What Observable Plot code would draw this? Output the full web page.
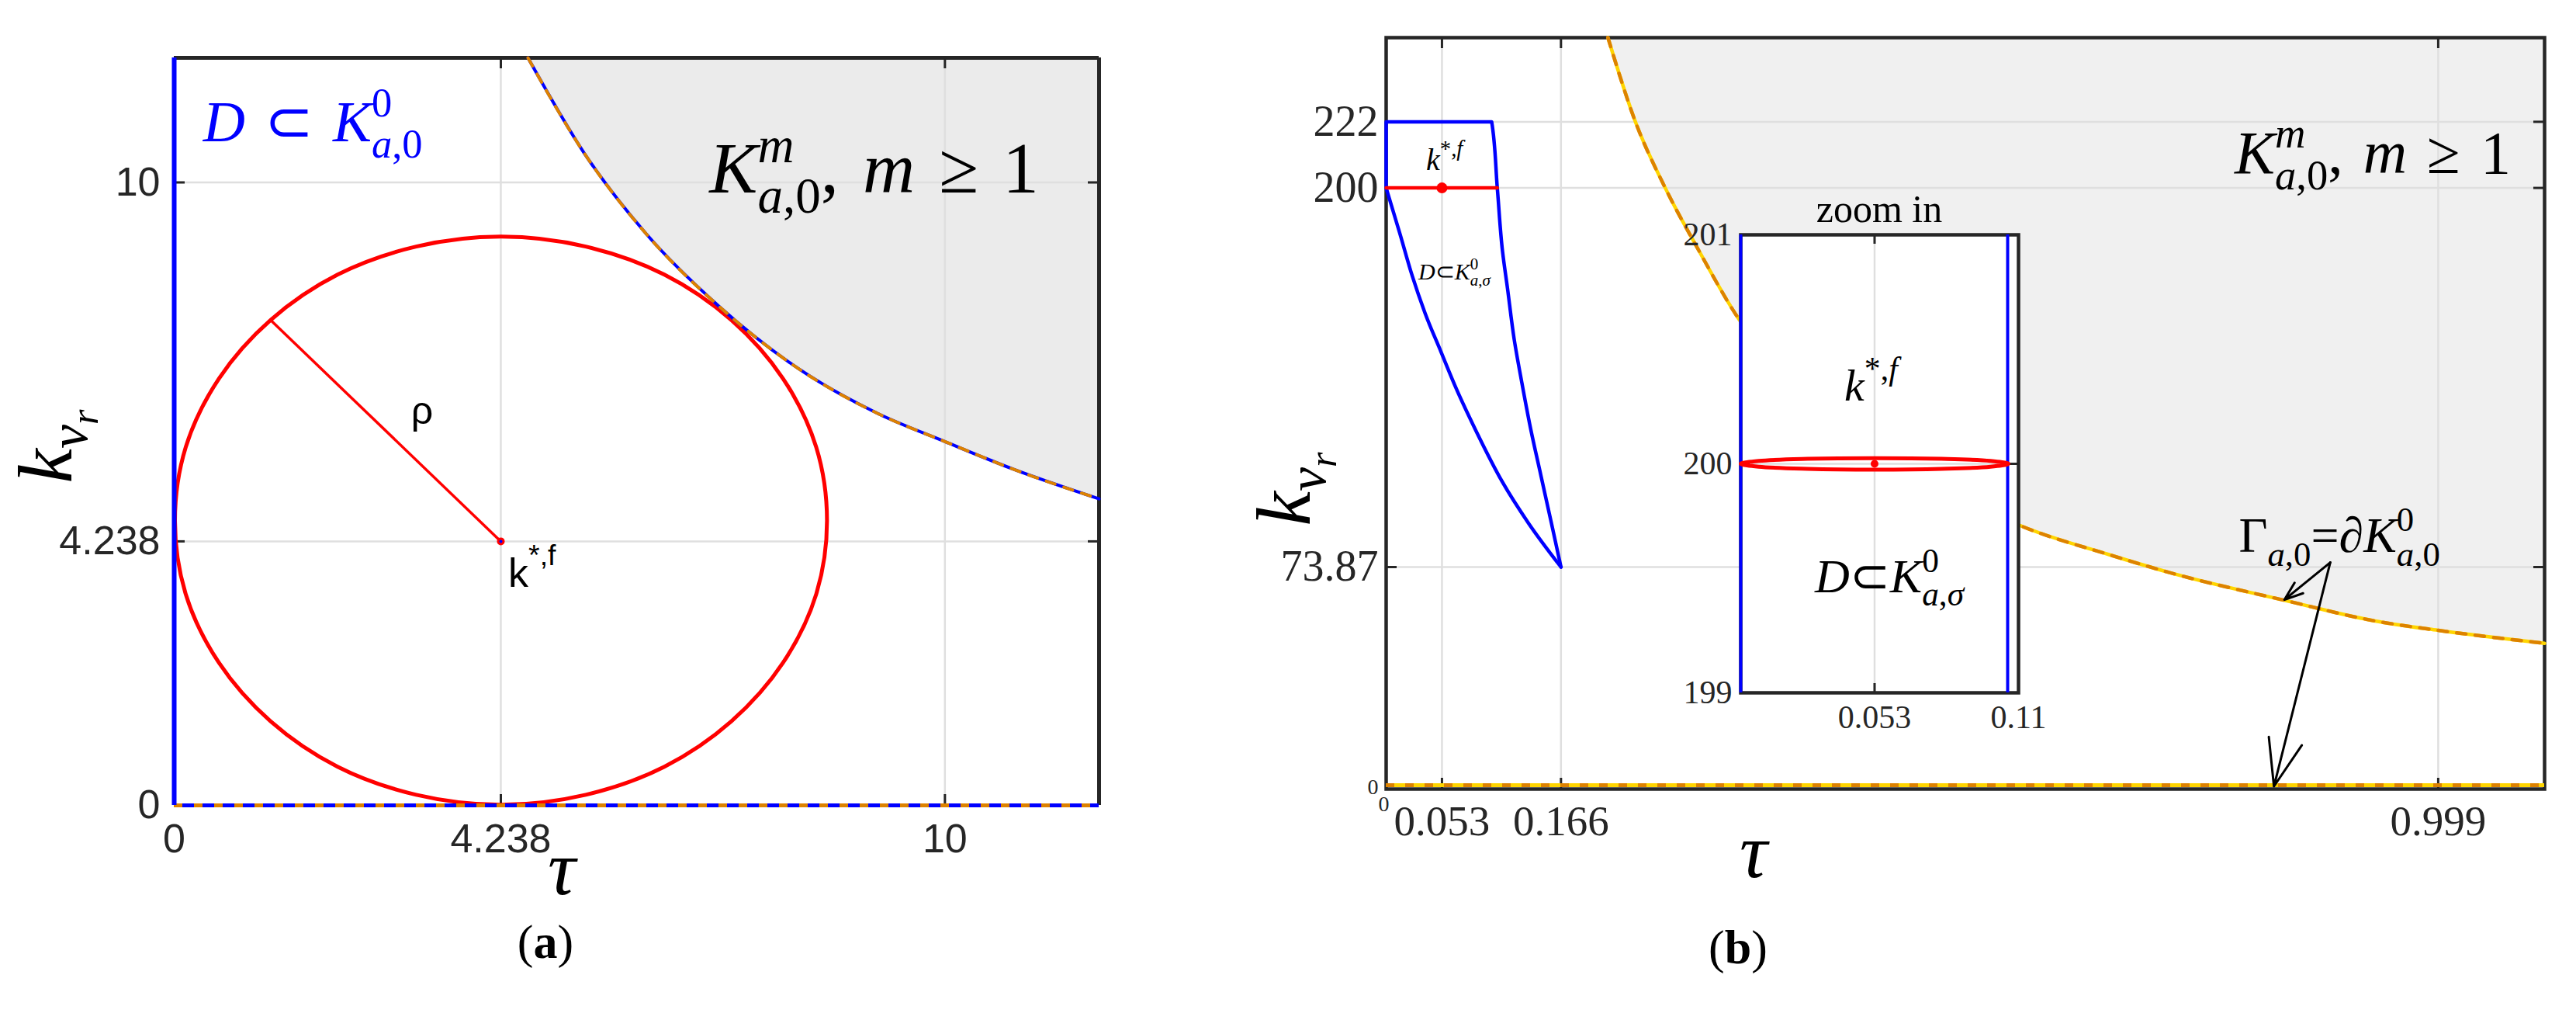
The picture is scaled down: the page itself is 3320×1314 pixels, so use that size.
<!DOCTYPE html>
<html><head><meta charset="utf-8">
<script src="https://cdn.jsdelivr.net/npm/d3@7"></script>
<script src="https://cdn.jsdelivr.net/npm/@observablehq/plot@0.6"></script>
<style>
html,body{margin:0;padding:0;background:#fff}
#root{position:relative;width:3320px;height:1314px;overflow:hidden;background:#fff}
.pane{position:absolute}
svg text{white-space:pre}
</style></head><body><div id="root">
<div id="pa" class="pane" style="left:0;top:0"></div>
<div id="pb" class="pane" style="left:1560px;top:0"></div>
<div id="pi" class="pane" style="left:2143px;top:222px"></div>
</div>
<script>
// ---------------- panel (a) data ----------------
const aDomainTau = [0, 12];
const aDomainK = [0, 12];
const aTicksTau = [0, 4.238, 10];
const aTicksK = [0, 4.238, 10];
const aGridTau = [4.238, 10];
const aGridK = [4.238, 10];
const aCircleTau = [8.47, 8.33, 7.90, 7.23, 6.36, 5.34, 4.24, 3.14, 2.12, 1.25, 0.58, 0.15, 0.01, 0.15, 0.58, 1.25, 2.12, 3.14, 4.24, 5.34, 6.36, 7.23, 7.90, 8.33];
const aCircleK   = [4.57, 5.75, 6.85, 7.79, 8.52, 8.97, 9.13, 8.97, 8.52, 7.79, 6.85, 5.75, 4.57, 3.39, 2.29, 1.35, 0.62, 0.17, 0.01, 0.17, 0.62, 1.35, 2.29, 3.39];
const aCenter = [4.238, 4.238];
const aRhoEnd = [1.25, 7.79];
const aBoundTau = [4.59, 5.32, 6.12, 7.07, 8.10, 9.13, 10.0, 10.88, 12.0];
const aBoundK   = [12.0, 10.47, 9.18, 8.01, 7.01, 6.29, 5.84, 5.40, 4.92];

// ---------------- panel (b) data ----------------
const bDomainTau = [0, 1.1];
const bDomainK = [0, 250];
const bTicksTau = [0.053, 0.166, 0.999];
const bTicksK = [73.87, 200, 222];
const bZero = [0];
const bOutlineTau = [0, 0, 0.1002, 0.1056, 0.1105, 0.1153, 0.1215, 0.1288, 0.1373, 0.1471, 0.1569, 0.166];
const bOutlineK   = [200, 222, 222, 199.7, 178.9, 166.4, 149.8, 135.3, 119.7, 104.1, 88.5, 73.87];
const bLowerTau = [0, 0.0127, 0.0249, 0.0371, 0.0518, 0.0665, 0.086, 0.1105, 0.1349, 0.166];
const bLowerK   = [200, 185.2, 170.6, 158.2, 145.7, 133.3, 118.7, 102.1, 88.6, 73.87];
const bRedTau = [0, 0.1056];
const bRedK = [200, 200];
const bStar = [0.053, 200];
const bBoundTau = [0.2106, 0.2370, 0.2653, 0.2967, 0.3345, 0.5998, 0.6865, 0.7494, 0.8531, 0.9380, 0.9990, 1.1];
const bBoundK   = [250, 221.7, 199.8, 179.3, 156.6, 88.0, 78.0, 71.5, 62.8, 56.0, 52.8, 48.5];
const bArrowFrom = [0.8965, 75.4];
const bArrowTo = [[0.853, 63.0], [0.843, 0.9]];

// ---------------- inset data ----------------
const iDomainTau = [0, 0.11];
const iDomainK = [199, 201];
const iTicksTau = [0.053, 0.11];
const iTicksK = [199, 200, 201];
const iGridTau = [0.053];
const iGridK = [200];
const iBlueTau = [0, 0.1057];
const iEllipseTau = [0, 0.0071, 0.0265, 0.053, 0.0795, 0.0989, 0.106, 0.0989, 0.0795, 0.053, 0.0265, 0.0071];
const iEllipseK   = [200, 200.0125, 200.0217, 200.025, 200.0217, 200.0125, 200, 199.9875, 199.9783, 199.975, 199.9783, 199.9875];
const iStar = [0.053, 200];

// ---------------- styling ----------------
const SERIF = "'Liberation Serif','Times New Roman',Times,serif";
const SANS = "'Liberation Sans',Arial,Helvetica,sans-serif";
const DARK = "#262626", GRID = "#dfdfdf", BLUE = "#0000ff", RED = "#ff0000";
const ORANGE = "#dd8200", YELLOW = "#ffd500";
const NS = "http://www.w3.org/2000/svg";

function rich(svg, x, y, size, segs, o = {}) {
  const g = document.createElementNS(NS, "g");
  svg.appendChild(g);
  const family = o.family || SERIF, fill = o.fill || "#000";
  let cx = 0;
  const put = (s, x0) => {
    const t = document.createElementNS(NS, "text");
    t.setAttribute("x", x0);
    t.setAttribute("y", (s.dy || 0) * size);
    t.setAttribute("text-anchor", "start");
    t.setAttribute("font-size", size * (s.fs || 1));
    t.setAttribute("font-family", s.family || family);
    t.setAttribute("fill", s.fill || fill);
    t.setAttribute("font-weight", s.b ? "bold" : "normal");
    const parts = s.p || [[s.t, s.it]];
    for (const [str, it] of parts) {
      const ts = document.createElementNS(NS, "tspan");
      ts.setAttribute("font-style", it ? "italic" : "normal");
      ts.textContent = str;
      t.appendChild(ts);
    }
    g.appendChild(t);
    return t.getComputedTextLength();
  };
  for (const s of segs) {
    if (s.stack) { let w = 0; for (const ss of s.stack) w = Math.max(w, put(ss, cx)); cx += w; }
    else cx += put(s, cx) + (s.gap || 0) * size;
  }
  const shift = o.anchor === "middle" ? -cx / 2 : o.anchor === "end" ? -cx : 0;
  g.setAttribute("transform", `translate(${x},${y}) rotate(${o.rotate || 0}) translate(${shift},0)`);
}
const sub_a0 = (dy) => ({p: [["a", 1], [",0", 0]], fs: 0.7, dy});
const sub_as = (dy) => ({p: [["a", 1], [",", 0], ["\u03c3", 1]], fs: 0.7, dy});
const SP = "\u2004";

// ================= panel (a) =================
const A = {W: 1560, H: 1314, ml: 224, mr: 144, mt: 74, mb: 277};
const aPH = A.H - A.mt - A.mb, aPW = A.W - A.ml - A.mr, TL = 14;
const aCircle = aCircleTau.map((t, i) => ({tau: t, k: aCircleK[i]}));
const aBound = aBoundTau.map((t, i) => ({tau: t, k: aBoundK[i]}));
const plotA = Plot.plot({
  width: A.W, height: A.H, marginLeft: A.ml, marginRight: A.mr, marginTop: A.mt, marginBottom: A.mb,
  x: {domain: aDomainTau, label: null}, y: {domain: aDomainK, label: null},
  style: {background: "transparent", fontFamily: SANS, color: DARK, overflow: "visible"},
  marks: [
    Plot.areaY(aBound, {x: "tau", y1: "k", y2: aDomainK[1], fill: "#ebebeb", curve: "monotone-x"}),
    Plot.ruleX(aGridTau, {stroke: GRID, strokeWidth: 2.5}),
    Plot.ruleY(aGridK, {stroke: GRID, strokeWidth: 2.5}),
    Plot.tickX(aGridTau, {x: d => d, stroke: DARK, strokeWidth: 3, insetBottom: aPH - TL}),
    Plot.tickX(aGridTau, {x: d => d, stroke: DARK, strokeWidth: 3, insetTop: aPH - TL}),
    Plot.tickY(aGridK, {y: d => d, stroke: DARK, strokeWidth: 3, insetRight: aPW - TL}),
    Plot.tickY(aGridK, {y: d => d, stroke: DARK, strokeWidth: 3, insetLeft: aPW - TL}),
    Plot.ruleY([aDomainK[1]], {stroke: DARK, strokeWidth: 5}),
    Plot.ruleX([aDomainTau[1]], {stroke: DARK, strokeWidth: 5}),
    Plot.line(aCircle, {x: "tau", y: "k", curve: "catmull-rom-closed", stroke: RED, strokeWidth: 5}),
    Plot.link([{x1: aRhoEnd[0], y1: aRhoEnd[1], x2: aCenter[0], y2: aCenter[1]}], {x1: "x1", y1: "y1", x2: "x2", y2: "y2", stroke: RED, strokeWidth: 3.5}),
    Plot.line(aBound, {x: "tau", y: "k", curve: "monotone-x", stroke: BLUE, strokeWidth: 4}),
    Plot.line(aBound, {x: "tau", y: "k", curve: "monotone-x", stroke: ORANGE, strokeWidth: 4, strokeDasharray: "12,12"}),
    Plot.ruleY([aDomainK[0]], {stroke: BLUE, strokeWidth: 5}),
    Plot.ruleY([aDomainK[0]], {stroke: ORANGE, strokeWidth: 5, strokeDasharray: "11,15"}),
    Plot.ruleX([aDomainTau[0]], {stroke: BLUE, strokeWidth: 6}),
    Plot.dot([aCenter], {x: d => d[0], y: d => d[1], r: 5, fill: RED}),
    Plot.dot([aCenter], {x: d => d[0], y: d => d[1], r: 2, fill: BLUE}),
    Plot.axisX(aTicksTau, {anchor: "bottom", tickSize: 0, tickPadding: 24, fontSize: 52, tickFormat: d => `${d}`, label: null}),
    Plot.axisY(aTicksK, {anchor: "left", tickSize: 0, tickPadding: 18, fontSize: 52, tickFormat: d => `${d}`, label: null})
  ]
});
document.getElementById("pa").appendChild(plotA);
const sxA = d3.scaleLinear(aDomainTau, [A.ml, A.W - A.mr]);
const syA = d3.scaleLinear(aDomainK, [A.H - A.mb, A.mt]);
rich(plotA, sxA(0.38), syA(10.66), 75, [
  {t: "D", it: 1}, {t: SP + "\u2282" + SP}, {t: "K", it: 1},
  {stack: [{t: "0", fs: 0.7, dy: -0.42}, sub_a0(0.28)]}
], {fill: BLUE});
rich(plotA, sxA(6.95), syA(9.83), 93, [
  {t: "K", it: 1}, {stack: [{t: "m", it: 1, fs: 0.7, dy: -0.42}, sub_a0(0.28)]},
  {t: "," + SP}, {t: "m", it: 1}, {t: SP + "\u2265" + SP + "1"}
]);
rich(plotA, sxA(3.22), syA(6.12), 50, [{t: "\u03c1"}], {anchor: "middle", family: SANS});
rich(plotA, sxA(4.34), syA(3.5), 52, [{t: "k"}, {t: "*,f", fs: 0.72, dy: -0.55}], {family: SANS});
rich(plotA, 724, 1152, 100, [{t: "\u03c4", it: 1}], {anchor: "middle"});
rich(plotA, 92, 575, 100, [
  {t: "k", it: 1}, {t: "v", it: 1, fs: 0.7, dy: 0.2}, {t: "r", it: 1, fs: 0.5, dy: 0.34}
], {anchor: "middle", rotate: -90});
rich(plotA, 703, 1234, 62, [{t: "("}, {t: "a", b: 1}, {t: ")"}], {anchor: "middle"});

// ================= panel (b) =================
const B = {W: 1760, H: 1314, ml: 226, mr: 41, mt: 48, mb: 298};
const bPH = B.H - B.mt - B.mb, bPW = B.W - B.ml - B.mr;
const bBound = bBoundTau.map((t, i) => ({tau: t, k: bBoundK[i]}));
const bOutline = bOutlineTau.map((t, i) => ({tau: t, k: bOutlineK[i]}));
const bLower = bLowerTau.map((t, i) => ({tau: t, k: bLowerK[i]}));
const bRed = bRedTau.map((t, i) => ({tau: t, k: bRedK[i]}));
const bArrows = bArrowTo.map(([t, k]) => ({x1: bArrowFrom[0], y1: bArrowFrom[1], x2: t, y2: k}));
const plotB = Plot.plot({
  width: B.W, height: B.H, marginLeft: B.ml, marginRight: B.mr, marginTop: B.mt, marginBottom: B.mb,
  x: {domain: bDomainTau, label: null}, y: {domain: bDomainK, label: null},
  style: {background: "transparent", fontFamily: SERIF, color: DARK, overflow: "visible"},
  marks: [
    Plot.areaY(bBound, {x: "tau", y1: "k", y2: bDomainK[1], fill: "#f0f0f0", curve: "monotone-x"}),
    Plot.ruleX(bTicksTau, {stroke: GRID, strokeWidth: 2.5}),
    Plot.ruleY(bTicksK, {stroke: GRID, strokeWidth: 2.5}),
    Plot.tickX(bTicksTau, {x: d => d, stroke: DARK, strokeWidth: 3, insetBottom: bPH - TL}),
    Plot.tickX(bTicksTau, {x: d => d, stroke: DARK, strokeWidth: 3, insetTop: bPH - TL}),
    Plot.tickY(bTicksK, {y: d => d, stroke: DARK, strokeWidth: 3, insetRight: bPW - TL}),
    Plot.tickY(bTicksK, {y: d => d, stroke: DARK, strokeWidth: 3, insetLeft: bPW - TL}),
    Plot.frame({stroke: DARK, strokeWidth: 4.5}),
    Plot.line(bBound, {x: "tau", y: "k", curve: "monotone-x", stroke: YELLOW, strokeWidth: 4.5}),
    Plot.line(bBound, {x: "tau", y: "k", curve: "monotone-x", stroke: ORANGE, strokeWidth: 4.5, strokeDasharray: "12,12"}),
    Plot.ruleY([bDomainK[0]], {stroke: YELLOW, strokeWidth: 5, dy: -5}),
    Plot.ruleY([bDomainK[0]], {stroke: ORANGE, strokeWidth: 5, dy: -5, strokeDasharray: "11,14"}),
    Plot.line(bOutline, {x: "tau", y: "k", stroke: BLUE, strokeWidth: 4.5, curve: "monotone-y"}),
    Plot.line(bLower, {x: "tau", y: "k", stroke: BLUE, strokeWidth: 4.5, curve: "monotone-x"}),
    Plot.line(bRed, {x: "tau", y: "k", stroke: RED, strokeWidth: 4.5}),
    Plot.dot([bStar], {x: d => d[0], y: d => d[1], r: 7, fill: RED}),
    Plot.arrow(bArrows, {x1: "x1", y1: "y1", x2: "x2", y2: "y2", stroke: "#000", strokeWidth: 3, headLength: 32, headAngle: 40}),
    Plot.axisX(bTicksTau, {anchor: "bottom", tickSize: 0, tickPadding: 20, fontSize: 55, tickFormat: d => `${d}`, label: null}),
    Plot.axisY(bTicksK, {anchor: "left", tickSize: 0, tickPadding: 10, fontSize: 56, tickFormat: d => `${d}`, label: null}),
    Plot.text(bZero, {x: d => d, y: d => d, text: d => `${d}`, fontSize: 28, textAnchor: "end", dx: -10, dy: -2, fill: DARK}),
    Plot.text(bZero, {x: d => d, y: d => d, text: d => `${d}`, fontSize: 28, dx: -3, dy: 20, fill: DARK})
  ]
});
document.getElementById("pb").appendChild(plotB);
const sxB = d3.scaleLinear(bDomainTau, [B.ml, B.W - B.mr]);
const syB = d3.scaleLinear(bDomainK, [B.H - B.mb, B.mt]);
rich(plotB, sxB(0.0383), syB(205.9), 40, [{t: "k", it: 1}, {t: "*,", fs: 0.72, dy: -0.45}, {t: "f", it: 1, fs: 0.72, dy: -0.45}]);
rich(plotB, sxB(0.031), syB(169.5), 30, [
  {t: "D", it: 1}, {t: "\u2282"}, {t: "K", it: 1},
  {stack: [{t: "0", fs: 0.7, dy: -0.42}, sub_as(0.28)]}
]);
rich(plotB, sxB(0.806), syB(204.9), 78, [
  {t: "K", it: 1}, {stack: [{t: "m", it: 1, fs: 0.7, dy: -0.42}, sub_a0(0.28)]},
  {t: "," + SP}, {t: "m", it: 1}, {t: SP + "\u2265" + SP + "1"}
]);
rich(plotB, sxB(0.810), syB(78.7), 64, [
  {t: "\u0393"}, sub_a0(0.28), {t: "=\u2202"}, {t: "K", it: 1},
  {stack: [{t: "0", fs: 0.7, dy: -0.42}, sub_a0(0.28)]}
]);
rich(plotB, 700, 1130, 100, [{t: "\u03c4", it: 1}], {anchor: "middle"});
rich(plotB, 128, 630, 100, [
  {t: "k", it: 1}, {t: "v", it: 1, fs: 0.7, dy: 0.2}, {t: "r", it: 1, fs: 0.5, dy: 0.34}
], {anchor: "middle", rotate: -90});
rich(plotB, 680, 1241, 62, [{t: "("}, {t: "b", b: 1}, {t: ")"}], {anchor: "middle"});

// ================= inset =================
const I = {W: 478, H: 750, ml: 100, mr: 20, mt: 80, mb: 80};
const iPH = I.H - I.mt - I.mb, iPW = I.W - I.ml - I.mr;
const iEllipse = iEllipseTau.map((t, i) => ({tau: t, k: iEllipseK[i]}));
const plotI = Plot.plot({
  width: I.W, height: I.H, marginLeft: I.ml, marginRight: I.mr, marginTop: I.mt, marginBottom: I.mb,
  x: {domain: iDomainTau, label: null}, y: {domain: iDomainK, label: null},
  style: {background: "transparent", fontFamily: SERIF, color: DARK, overflow: "visible"},
  marks: [
    Plot.frame({fill: "white", stroke: null}),
    Plot.ruleX(iGridTau, {stroke: GRID, strokeWidth: 2.5}),
    Plot.ruleY(iGridK, {stroke: GRID, strokeWidth: 2.5}),
    Plot.tickX(iGridTau, {x: d => d, stroke: DARK, strokeWidth: 3, insetBottom: iPH - 12}),
    Plot.tickX(iGridTau, {x: d => d, stroke: DARK, strokeWidth: 3, insetTop: iPH - 12}),
    Plot.tickY(iGridK, {y: d => d, stroke: DARK, strokeWidth: 3, insetRight: iPW - 12}),
    Plot.tickY(iGridK, {y: d => d, stroke: DARK, strokeWidth: 3, insetLeft: iPW - 12}),
    Plot.frame({stroke: DARK, strokeWidth: 4.5}),
    Plot.ruleX(iBlueTau, {stroke: BLUE, strokeWidth: 4}),
    Plot.line(iEllipse, {x: "tau", y: "k", curve: "catmull-rom-closed", stroke: RED, strokeWidth: 5}),
    Plot.dot([iStar], {x: d => d[0], y: d => d[1], r: 5, fill: RED}),
    Plot.axisX(iTicksTau, {anchor: "bottom", tickSize: 0, tickPadding: 16, fontSize: 42, tickFormat: d => `${d}`, label: null}),
    Plot.axisY(iTicksK, {anchor: "left", tickSize: 0, tickPadding: 11, fontSize: 42, tickFormat: d => `${d}`, label: null})
  ]
});
document.getElementById("pi").appendChild(plotI);
const sxI = d3.scaleLinear(iDomainTau, [I.ml, I.W - I.mr]);
const syI = d3.scaleLinear(iDomainK, [I.H - I.mb, I.mt]);
rich(plotI, sxI(0.055), syI(201) - 16, 50, [{t: "zoom in"}], {anchor: "middle"});
rich(plotI, sxI(0.0412), syI(200.276), 58, [{t: "k", it: 1}, {t: "*,", fs: 0.72, dy: -0.45}, {t: "f", it: 1, fs: 0.72, dy: -0.45}]);
rich(plotI, sxI(0.0295), syI(199.437), 62, [
  {t: "D", it: 1}, {t: "\u2282"}, {t: "K", it: 1},
  {stack: [{t: "0", fs: 0.7, dy: -0.42}, sub_as(0.28)]}
]);
</script></body></html>
